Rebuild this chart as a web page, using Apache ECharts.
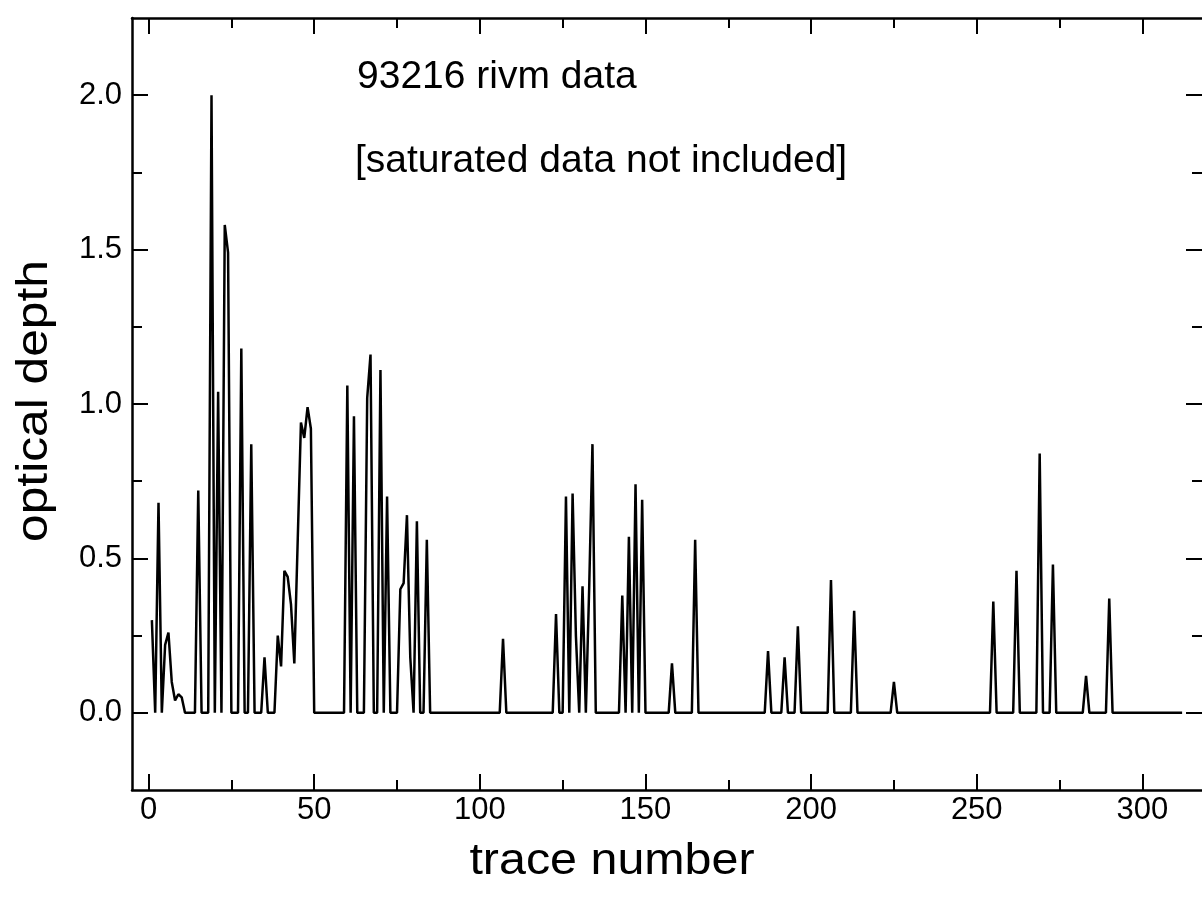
<!DOCTYPE html>
<html>
<head>
<meta charset="utf-8">
<script src="https://cdn.jsdelivr.net/npm/echarts@6/dist/echarts.min.js"></script>
<style>
  html, body { margin: 0; padding: 0; background: #fff; }
  #chart { width: 1202px; height: 909px; }
</style>
</head>
<body>
<div id="chart"></div>
<script>
// ---- data ----
const traceNumber = [
  1, 2, 3, 4, 5, 6, 7, 8, 9, 10, 11, 14, 15, 16, 18, 19, 20, 21, 22, 23, 24, 25,
  27, 28, 29, 30, 31, 32, 34, 35, 36, 38, 39, 40, 41, 42, 43, 44, 45, 46, 47, 48, 49, 50,
  59, 60, 61, 62, 63, 65, 66, 67, 68, 69, 70, 71, 72, 73, 75, 76, 77, 78, 79, 80, 81, 82, 83, 84, 85,
  106, 107, 108, 122, 123, 124, 125, 126, 127, 128, 129, 130, 131, 132, 133, 134, 135,
  142, 143, 144, 145, 146, 147, 148, 149, 150, 157, 158, 159, 164, 165, 166,
  186, 187, 188, 191, 192, 193, 195, 196, 197, 205, 206, 207, 212, 213, 214, 224, 225, 226,
  254, 255, 256, 261, 262, 263, 268, 269, 270, 272, 273, 274, 282, 283, 284, 289, 290, 291, 312
];
const opticalDepth = [
  0.30, 0, 0.68, 0, 0.22, 0.26, 0.10, 0.04, 0.06, 0.05, 0, 0, 0.72, 0, 0, 2.00, 0, 1.04, 0, 1.58, 1.49, 0,
  0, 1.18, 0, 0, 0.87, 0, 0, 0.18, 0, 0, 0.25, 0.15, 0.46, 0.44, 0.35, 0.16, 0.55, 0.94, 0.89, 0.99, 0.92, 0,
  0, 1.06, 0, 0.96, 0, 0, 1.02, 1.16, 0, 0, 1.11, 0, 0.70, 0, 0, 0.40, 0.42, 0.64, 0.18, 0, 0.62, 0, 0, 0.56, 0,
  0, 0.24, 0, 0, 0.32, 0, 0, 0.70, 0, 0.71, 0.25, 0, 0.41, 0, 0.40, 0.87, 0,
  0, 0.38, 0, 0.57, 0, 0.74, 0, 0.69, 0, 0, 0.16, 0, 0, 0.56, 0,
  0, 0.20, 0, 0, 0.18, 0, 0, 0.28, 0, 0, 0.43, 0, 0, 0.33, 0, 0, 0.10, 0,
  0, 0.36, 0, 0, 0.46, 0, 0, 0.84, 0, 0, 0.48, 0, 0, 0.12, 0, 0, 0.37, 0, 0
];
const xMajorTicks = [0, 50, 100, 150, 200, 250, 300];
const xMinorTicks = [25, 75, 125, 175, 225, 275];
const yMajorTicks = [0, 0.5, 1.0, 1.5, 2.0];
const yMinorTicks = [0.25, 0.75, 1.25, 1.75];
const xTitle = 'trace number';
const yTitle = 'optical depth';
const noteLines = ['93216 rivm data', '[saturated data not included]'];

// ---- chart ----
const FONT = 'Liberation Sans, Arial, Helvetica, sans-serif';
const X_MIN = -5, X_MAX = 318, Y_MIN = -0.25, Y_MAX = 2.25;
const AXIS_LINE = { color: '#000', width: 2.5 };

function xAxisDef(pos, ticks, len, labels, line) {
  return {
    type: 'value', position: pos, min: X_MIN, max: X_MAX,
    axisLine: { show: line, onZero: false, lineStyle: AXIS_LINE },
    axisTick: { show: true, inside: true, length: len, customValues: ticks, lineStyle: { color: '#000', width: 2 } },
    axisLabel: labels ? {
      show: true, customValues: ticks, margin: 5, color: '#000', fontSize: 31, fontFamily: FONT
    } : { show: false },
    splitLine: { show: false }
  };
}
function yAxisDef(pos, ticks, len, labels, line) {
  return {
    type: 'value', position: pos, min: Y_MIN, max: Y_MAX,
    axisLine: { show: line, onZero: false, lineStyle: AXIS_LINE },
    axisTick: { show: true, inside: true, length: len, customValues: ticks, lineStyle: { color: '#000', width: 2 } },
    axisLabel: labels ? {
      show: true, customValues: ticks, margin: 10, color: '#000', fontSize: 31, fontFamily: FONT,
      formatter: v => Number(v).toFixed(1)
    } : { show: false },
    splitLine: { show: false }
  };
}

const chart = echarts.init(document.getElementById('chart'), null, { renderer: 'canvas' });
chart.setOption({
  animation: false,
  backgroundColor: '#fff',
  grid: { left: 132, top: 18, width: 1070, height: 772, containLabel: false },
  xAxis: [
    xAxisDef('bottom', xMajorTicks, 16, true, true),
    xAxisDef('bottom', xMinorTicks, 10, false, false),
    xAxisDef('top', xMajorTicks, 16, false, true),
    xAxisDef('top', xMinorTicks, 10, false, false)
  ],
  yAxis: [
    yAxisDef('left', yMajorTicks, 16, true, true),
    yAxisDef('left', yMinorTicks, 10, false, false),
    yAxisDef('right', yMajorTicks, 16, false, false),
    yAxisDef('right', yMinorTicks, 10, false, false)
  ],
  graphic: [
    { type: 'text', left: 357, top: 58, style: { text: noteLines[0], fill: '#000', font: '39px ' + FONT } },
    { type: 'text', left: 355, top: 142, style: { text: noteLines[1], fill: '#000', font: '39px ' + FONT } },
    { type: 'text', x: 612, y: 862, scaleX: 1.1, style: { text: xTitle, fill: '#000', font: '44px ' + FONT, align: 'center', verticalAlign: 'middle' } },
    { type: 'text', x: 35, y: 401, rotation: Math.PI / 2, scaleX: 1.13, style: { text: yTitle, fill: '#000', font: '44px ' + FONT, align: 'center', verticalAlign: 'middle' } }
  ],
  series: [{
    type: 'line',
    xAxisIndex: 0, yAxisIndex: 0,
    data: traceNumber.map((t, i) => [t, opticalDepth[i]]),
    showSymbol: false,
    symbol: 'none',
    lineStyle: { color: '#000', width: 2.5 },
    clip: true
  }]
});
</script>
</body>
</html>
